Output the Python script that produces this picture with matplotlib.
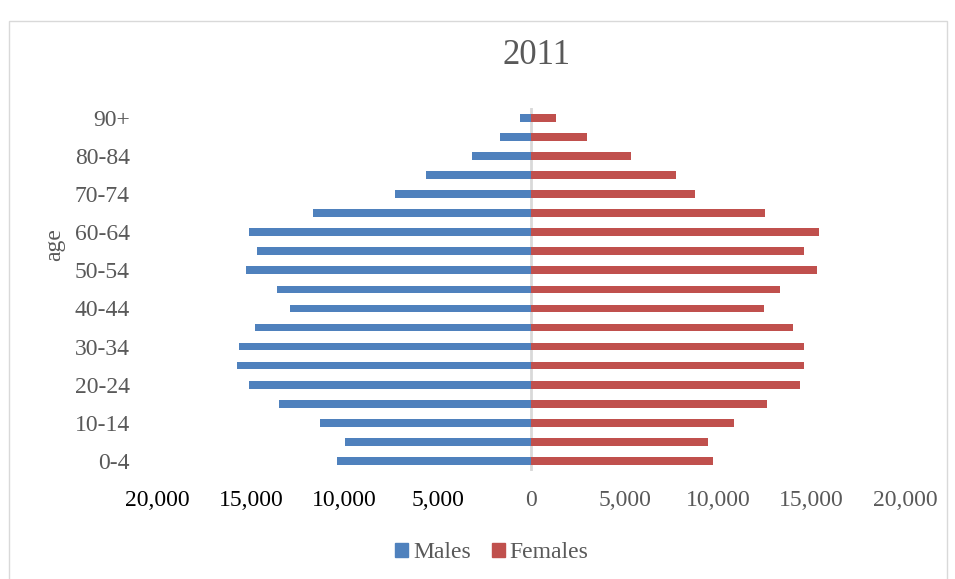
import matplotlib
matplotlib.use("Agg")
import matplotlib.pyplot as plt
from matplotlib.patches import Rectangle, Patch
from matplotlib.ticker import FuncFormatter

plt.rcParams["font.family"] = ["Liberation Serif", "DejaVu Serif"]

# Age groups, youngest first
age_groups = ["0-4", "5-9", "10-14", "15-19", "20-24", "25-29", "30-34",
              "35-39", "40-44", "45-49", "50-54", "55-59", "60-64",
              "65-69", "70-74", "75-79", "80-84", "85-89", "90+"]

males = [10400, 9970, 11290, 13480, 15080, 15720, 15660, 14760, 12910,
         13580, 15240, 14700, 15080, 11660, 7300, 5640, 3180, 1650, 590]
females = [9740, 9440, 10840, 12640, 14400, 14590, 14590, 14010, 12440,
           13310, 15270, 14610, 15410, 12510, 8750, 7750, 5350, 2990, 1330]

x_ticks = [-20000, -15000, -10000, -5000, 0, 5000, 10000, 15000, 20000]

title = "2011"
series_names = ["Males", "Females"]
y_label = "age"

BLUE = "#4F81BD"
RED = "#C0504D"
GREY = "#595959"

W, H = 955, 579
fig = plt.figure(figsize=(W / 100, H / 100), dpi=100)

# chart-area border (bottom edge runs past the canvas)
fig.patches.append(Rectangle((9 / W, -5 / H), (947 - 9) / W, (H - 21 + 5) / H,
                             transform=fig.transFigure, fill=False,
                             edgecolor="#D9D9D9", linewidth=1.0))

left, right = 157.5, 905.0
top, bottom = 108.2, 470.5
ax = fig.add_axes([left / W, 1 - bottom / H, (right - left) / W, (bottom - top) / H])

pos = list(range(len(age_groups)))
ax.barh(pos, [-m for m in males], height=0.4, color=BLUE, label=series_names[0])
ax.barh(pos, females, height=0.4, color=RED, label=series_names[1])

ax.set_xlim(-20000, 20000)
ax.set_ylim(-0.5, len(age_groups) - 0.5)
for s in ax.spines.values():
    s.set_visible(False)
ax.axvline(0, color="#D9D9D9", linewidth=2, zorder=0)

ax.set_xticks(x_ticks)
ax.xaxis.set_major_formatter(FuncFormatter(lambda v, p: f"{abs(int(v)):,}"))
ax.tick_params(axis="x", length=0, labelsize=17, pad=14)
for lab, v in zip(ax.get_xticklabels(), x_ticks):
    lab.set_color("black" if v < 0 else GREY)

ax.set_yticks(pos[::2])
ax.set_yticklabels(age_groups[::2])
ax.tick_params(axis="y", length=0, labelsize=17, labelcolor=GREY, pad=20)

fig.text(55 / W, 1 - 245 / H, y_label, rotation=90, ha="center", va="center",
         fontsize=17, color=GREY)
fig.text(537 / W, 1 - 56 / H, title, ha="center", va="center",
         fontsize=25, color=GREY)

handles = [Patch(color=BLUE), Patch(color=RED)]
leg = fig.legend(handles, series_names, loc="center", ncol=2,
                 bbox_to_anchor=(492 / W, 1 - 553 / H), frameon=False,
                 fontsize=17, handlelength=0.55, handleheight=0.55,
                 handletextpad=0.2, columnspacing=0.9)
for t in leg.get_texts():
    t.set_color(GREY)

fig.savefig("out.png", dpi=100)
